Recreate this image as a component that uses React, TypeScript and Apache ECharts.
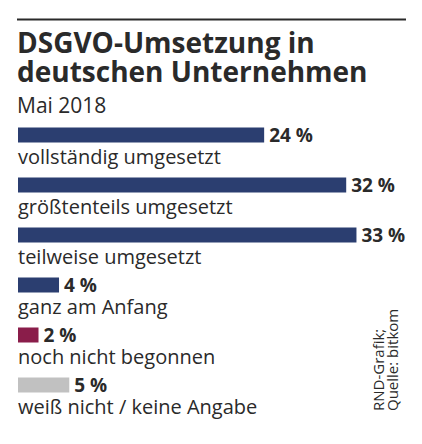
import * as echarts from "echarts";
import { useEffect, useRef } from "react";

const categories = [
  "vollständig umgesetzt",
  "größtenteils umgesetzt",
  "teilweise umgesetzt",
  "ganz am Anfang",
  "noch nicht begonnen",
  "weiß nicht / keine Angabe",
];
const shares = [24, 32, 33, 4, 2, 5];

const titleText = "DSGVO-Umsetzung in\ndeutschen Unternehmen";
const subtitleText = "Mai 2018";
const sourceText = "RND-Grafik;\nQuelle: bitkom";

const barColors = ["#2b3e70", "#2b3e70", "#2b3e70", "#2b3e70", "#8a1d4a", "#c1c1c1"];
const ink = "#2a2a2a";
const font = "'Open Sans', sans-serif";

export default function App() {
  const ref = useRef<HTMLDivElement | null>(null);

  useEffect(() => {
    if (!ref.current) return;
    document.body.style.margin = "0";

    const chart = echarts.init(ref.current, null, { renderer: "svg" });

    chart.setOption({
      animation: false,
      backgroundColor: "#ffffff",
      title: {
        text: titleText,
        subtext: subtitleText,
        left: 17,
        top: 27,
        padding: 0,
        itemGap: 9,
        textStyle: {
          fontFamily: font,
          fontWeight: "bold",
          fontSize: 28,
          lineHeight: 29,
          color: ink,
        },
        subtextStyle: {
          fontFamily: font,
          fontSize: 21,
          lineHeight: 21,
          color: ink,
        },
      },
      graphic: [
        {
          type: "line",
          shape: { x1: 17, y1: 19.5, x2: 406, y2: 19.5 },
          style: { stroke: ink, lineWidth: 2 },
        },
        {
          type: "text",
          x: 371,
          y: 411,
          rotation: Math.PI / 2,
          style: {
            text: sourceText,
            fontFamily: font,
            fontSize: 15,
            lineHeight: 14,
            fill: ink,
            align: "left",
            verticalAlign: "top",
          },
        },
      ],
      grid: { left: 18, top: 110, width: 400, height: 300 },
      xAxis: {
        type: "value",
        min: 0,
        max: 39,
        show: false,
      },
      yAxis: {
        type: "category",
        data: categories,
        inverse: true,
        axisLine: { show: false },
        axisTick: { show: false },
        splitLine: { show: false },
        axisLabel: {
          inside: true,
          interval: 0,
          margin: 0,
          align: "left",
          verticalAlign: "top",
          padding: [11, 0, 0, 0],
          fontFamily: font,
          fontSize: 20,
          lineHeight: 20,
          color: ink,
        },
      },
      series: [
        {
          type: "bar",
          barWidth: 15,
          data: shares.map((v, i) => ({ value: v, itemStyle: { color: barColors[i] } })),
          label: {
            show: true,
            position: "right",
            distance: 5,
            formatter: (p: { value: number }) => `${p.value} %`,
            fontFamily: font,
            fontWeight: "bold",
            fontSize: 19,
            color: ink,
          },
        },
      ],
    });

    return () => {
      chart.dispose();
    };
  }, []);

  return <div ref={ref} style={{ width: 422, height: 444 }} />;
}
